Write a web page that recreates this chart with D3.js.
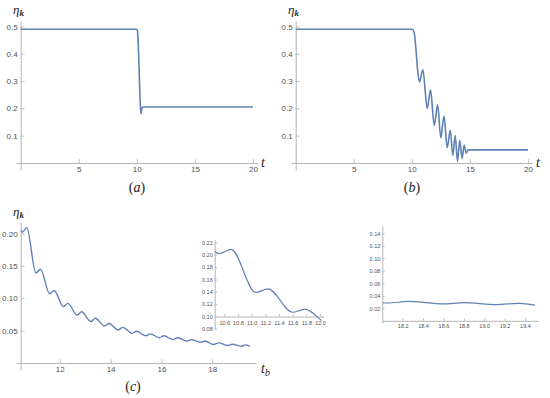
<!DOCTYPE html>
<html><head><meta charset="utf-8">
<script src="https://cdn.jsdelivr.net/npm/d3@7"></script>
<style>body{margin:0;background:#fff}svg{display:block}</style>
</head><body>
<svg id="chart" width="550" height="398"></svg>
<script>
// ---- data ----
const tA   = [0, 10.0, 10.05, 10.12, 10.2, 10.28, 10.36, 10.42, 10.5, 20];
const etaA = [0.49, 0.49, 0.485, 0.44, 0.34, 0.23, 0.18, 0.198, 0.205, 0.205];

const tB   = [0, 10.05, 10.2, 10.35, 10.5, 10.66, 10.95, 11.33, 11.61, 11.93, 12.22, 12.5, 12.77, 13.05, 13.31, 13.53, 13.74, 13.93, 14.13, 14.33, 14.5, 14.68, 14.85, 20];
const etaB = [0.49, 0.49, 0.478, 0.42, 0.34, 0.297, 0.341, 0.2, 0.267, 0.138, 0.213, 0.092, 0.172, 0.056, 0.12, 0.028, 0.1, 0.006, 0.083, 0.016, 0.066, 0.036, 0.048, 0.048];

const tC   = [10.46, 10.52, 10.7, 11.06, 11.24, 11.6, 11.78, 12.14, 12.32, 12.68, 12.86, 13.22, 13.4, 13.76, 13.94, 14.3, 14.48, 14.84, 15.02, 15.38, 15.56, 15.92, 16.1, 16.46, 16.64, 17.0, 17.18, 17.54, 17.72, 18.05, 18.26, 18.6, 18.8, 19.12, 19.34, 19.5];
const etaC = [0.2055, 0.2018, 0.209, 0.139, 0.145, 0.107, 0.112, 0.087, 0.092, 0.074, 0.079, 0.064, 0.069, 0.057, 0.061, 0.051, 0.055, 0.046, 0.049, 0.042, 0.045, 0.039, 0.042, 0.036, 0.039, 0.034, 0.036, 0.032, 0.034, 0.0285, 0.031, 0.027, 0.029, 0.026, 0.028, 0.025];

// tick labels
const xTicksAB = [5, 10, 15, 20];
const yTicksAB = [0.1, 0.2, 0.3, 0.4, 0.5];
const xTicksC  = [12, 14, 16, 18];
const yTicksC  = [0.05, 0.10, 0.15, 0.20];
const xTicksI1 = [10.6, 10.8, 11.0, 11.2, 11.4, 11.6, 11.8, 12.0];
const yTicksI1 = [0.08, 0.10, 0.12, 0.14, 0.16, 0.18, 0.20, 0.22];
const xTicksI2 = [18.2, 18.4, 18.6, 18.8, 19.0, 19.2, 19.4];
const yTicksI2 = [0.02, 0.04, 0.06, 0.08, 0.10, 0.12, 0.14];

const LINE = "#5e81b5", AX = "#b4b4b4", LAB = "#505050";
const svg = d3.select("#chart");
let clipId = 0;

function range(a, b, s) { const r = []; for (let v = a; v <= b + 1e-9; v += s) r.push(+v.toFixed(4)); return r; }

function panel(o) {
  const g = svg.append("g");
  const x = d3.scaleLinear().domain(o.xd).range(o.xr);
  const y = d3.scaleLinear().domain(o.yd).range(o.yr);
  const oy = y(o.origin[1]), ox = x(o.origin[0]);
  // x axis
  const xa = g.append("g").attr("transform", `translate(0,${oy})`);
  xa.call(d3.axisBottom(x).tickValues(o.xMinor).tickSizeInner(-o.minor).tickSizeOuter(0).tickFormat(""));
  xa.call(d3.axisBottom(x).tickValues(o.xTicks).tickSizeInner(-o.major).tickSizeOuter(0).tickPadding(o.xpad).tickFormat(o.xf));
  // y axis
  const ya = g.append("g").attr("transform", `translate(${ox},0)`);
  ya.call(d3.axisLeft(y).tickValues(o.yMinor).tickSizeInner(-o.minor).tickSizeOuter(0).tickFormat(""));
  ya.call(d3.axisLeft(y).tickValues(o.yTicks).tickSizeInner(-o.major).tickSizeOuter(0).tickPadding(o.pad).tickFormat(o.yf));
  g.selectAll(".domain").attr("stroke", AX).attr("stroke-width", 1);
  g.selectAll(".tick line").attr("stroke", AX).attr("stroke-width", 0.8);
  g.selectAll(".tick text").attr("fill", LAB).style("font-family", "Liberation Sans, Arial, sans-serif").style("font-size", o.fs + "px");
  // clip + curve
  const id = "cl" + (clipId++);
  g.append("clipPath").attr("id", id).append("rect")
    .attr("x", x(o.clip[0])).attr("width", x(o.clip[1]) - x(o.clip[0]))
    .attr("y", 0).attr("height", 398);
  const line = d3.line().x(d => x(d[0])).y(d => y(d[1])).curve(d3.curveMonotoneX);
  g.append("path").datum(d3.zip(o.t, o.v)).attr("d", line).attr("clip-path", `url(#${id})`)
    .attr("fill", "none").attr("stroke", LINE).attr("stroke-width", o.lw).attr("stroke-linejoin", "round");
  return {g, x, y};
}

const f1 = d3.format(".1f"), f2 = d3.format(".2f");

function etaLabel(x, yb) {
  const t = svg.append("text").attr("x", x).attr("y", yb).style("font-family", "Liberation Serif, serif").style("font-size", "13px").attr("fill", "#222");
  t.append("tspan").style("font-style", "italic").text("η");
  t.append("tspan").attr("dy", 2).style("font-style", "italic").style("font-weight", "bold").style("font-size", "9px").text("k");
}
function capLabel(cx, yb, letter) {
  const t = svg.append("text").attr("x", cx).attr("y", yb).attr("text-anchor", "middle").style("font-family", "Liberation Serif, serif").style("font-size", "14px").attr("fill", "#222");
  t.append("tspan").text("(");
  t.append("tspan").style("font-style", "italic").text(letter);
  t.append("tspan").text(")");
}
function tLabel(x, yb, sub) {
  const t = svg.append("text").attr("x", x).attr("y", yb).style("font-family", "Liberation Serif, serif").style("font-size", "14px").style("font-style", "italic").attr("fill", "#222");
  t.append("tspan").text("t");
  if (sub) t.append("tspan").attr("dy", 3).style("font-size", "10px").text(sub);
}

// ---- panel (a) and (b) ----
[[0, tA, etaA, "a"], [275, tB, etaB, "b"]].forEach(([dx, t, v, lab]) => {
  panel({
    xd: [-0.4, 20.4], xr: [dx + 16.05, dx + 257.6],
    yd: [-0.025, 0.52], yr: [169.8, 21],
    origin: [0, 0], xTicks: xTicksAB, yTicks: yTicksAB,
    xMinor: range(1, 20, 1), yMinor: range(0.02, 0.5, 0.02),
    major: 4, minor: 2, pad: 3, xpad: 3, fs: 8, xf: d3.format("d"), yf: f1,
    t, v, clip: [-1, 21], lw: 1.6
  });
  etaLabel(dx + 13, 14);
  tLabel(dx + 261, 167);
  capLabel(dx + 137, 192, lab);
});

// ---- panel (c) ----
panel({
  xd: [10.28, 19.72], xr: [16.1, 255.9],
  yd: [-0.011, 0.218], yr: [370.1, 221.8],
  origin: [10.46, 0], xTicks: xTicksC, yTicks: yTicksC,
  xMinor: range(10.5, 19.5, 0.5), yMinor: range(0.01, 0.21, 0.01),
  major: 4, minor: 2, pad: 3, xpad: 3, fs: 8, xf: d3.format("d"), yf: f2,
  t: tC, v: etaC, clip: [10.46, 19.5], lw: 1.4
});
etaLabel(13, 216);
tLabel(261, 373, "b");
capLabel(133, 391, "c");

// ---- inset 1 ----
panel({
  xd: [10.46, 12.06], xr: [214.7, 324.1],
  yd: [0.08, 0.225], yr: [328.9, 239.4],
  origin: [10.46, 0.10], xTicks: xTicksI1, yTicks: yTicksI1,
  xMinor: range(10.5, 12.05, 0.05), yMinor: range(0.085, 0.225, 0.005),
  major: 2.5, minor: 1.3, pad: 2, xpad: 5, fs: 5.5, xf: f1, yf: f2,
  t: tC, v: etaC, clip: [10.46, 12.02], lw: 1.2
});

// ---- inset 2 ----
panel({
  xd: [18.0, 19.53], xr: [382.3, 538.2],
  yd: [-0.003, 0.152], yr: [322.7, 225.8],
  origin: [18.0, 0], xTicks: xTicksI2, yTicks: yTicksI2,
  xMinor: range(18.05, 19.5, 0.05), yMinor: range(0.005, 0.15, 0.005),
  major: 2.5, minor: 1.3, pad: 2, xpad: 3, fs: 5.5, xf: f1, yf: f2,
  t: tC, v: etaC, clip: [18.0, 19.5], lw: 1.2
});
</script>
</body></html>
